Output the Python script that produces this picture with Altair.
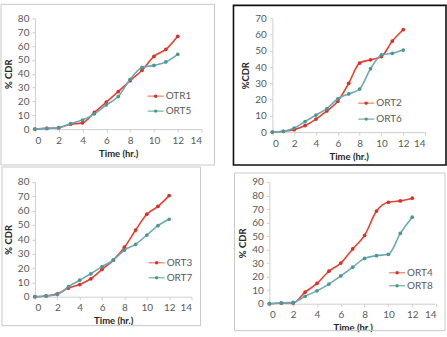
import altair as alt
import pandas as pd

# ---------------- data ----------------
time_hr = [0, 1, 2, 3, 4, 5, 6, 7, 8, 9, 10, 11, 12]

otr1 = [0, 0.5, 1, 3.5, 4.5, 12, 19.5, 27, 35, 42.5, 52.5, 57.5, 67]
ort5 = [0, 0.5, 1, 4, 6.5, 11, 17.5, 23.5, 36, 44.5, 46, 48.5, 54]

ort2 = [0, 0.5, 1.5, 4, 8, 13, 19, 30, 42.5, 44.5, 46.5, 56, 63]
ort6 = [0, 0.5, 2.5, 6.5, 10.5, 14.5, 20.5, 23.5, 26.5, 39, 47.5, 48.5, 50.5]

ort3 = [0, 0.5, 2, 6, 8.5, 12.5, 19, 25.5, 34.5, 46.5, 57.5, 63, 70.5]
ort7 = [0, 0.5, 1.5, 7, 11.5, 16, 21, 25.5, 32.5, 36.5, 43, 49.5, 54]

ort4 = [0, 0.5, 0.5, 8.5, 15, 24, 30, 40.5, 50.5, 68.5, 75, 76, 78]
ort8 = [0, 0.5, 1, 5.5, 9.5, 14.5, 20.5, 27, 33.5, 35.5, 36.5, 52, 64]

x_ticks = [0, 2, 4, 6, 8, 10, 12, 14]
y_max = [80, 70, 80, 90]
y_titles = ["% CDR", "%CDR", "% CDR", "% CDR"]
series_names = [["OTR1", "ORT5"], ["ORT2", "ORT6"], ["ORT3", "ORT7"], ["ORT4", "ORT8"]]
series_values = [[otr1, ort5], [ort2, ort6], [ort3, ort7], [ort4, ort8]]
x_title = "Time (hr.)"

# ---------------- styles ----------------
RED_LINE = "#e8412c"
RED_PT = "#d9302a"
TEAL_LINE = "#6da7bf"
TEAL_PT = "#4a9a8c"
LINE_COLORS = [RED_LINE, TEAL_LINE]
PT_COLORS = [RED_PT, TEAL_PT]
LEG_LINE = ["#ef8a6a", "#7fb3b0"]
FONT = "Lato"

# per-panel layout: plot size, frame (relative to plot), frame style, legend spot
layout = [
    dict(w=167, h=111, frame=(-34, 180, -14, 147), fc="#c8c8c8", fw=1, leg=(113, 78, 15)),
    dict(w=153, h=114, frame=(-39, 174, -13, 147), fc="#111111", fw=1.6, leg=(86, 85, 16)),
    dict(w=157, h=115, frame=(-33, 166, -15, 144), fc="#c8c8c8", fw=1, leg=(114, 81, 15)),
    dict(w=167, h=122, frame=(-35, 176, -9, 149), fc="#c8c8c8", fw=1, leg=(120, 91, 13)),
]

one = pd.DataFrame({"k": [0]})


def panel(i):
    L = layout[i]
    names = series_names[i]
    vals = series_values[i]
    xs = alt.X("t:Q", scale=alt.Scale(domain=[0, 14], nice=False),
               axis=alt.Axis(values=x_ticks, title=x_title))
    ys = alt.Y("v:Q", scale=alt.Scale(domain=[0, y_max[i]], nice=False),
               axis=alt.Axis(values=list(range(0, y_max[i] + 1, 10)), title=y_titles[i]))
    layers = []
    fx0, fx1, fy0, fy1 = L["frame"]
    layers.append(
        alt.Chart(one).mark_rect(fillOpacity=0, stroke=L["fc"], strokeWidth=L["fw"]).encode(
            x=alt.value(fx0), x2=alt.value(fx1), y=alt.value(fy0), y2=alt.value(fy1)
        )
    )
    for j in range(2):
        df = pd.DataFrame({"t": time_hr, "v": vals[j]})
        base = alt.Chart(df).encode(x=xs, y=ys)
        layers.append(base.mark_line(color=LINE_COLORS[j], strokeWidth=1.6, interpolate="monotone"))
        layers.append(base.mark_point(filled=True, color=PT_COLORS[j], size=14, opacity=1))
    lx, ly, dy = L["leg"]
    for j in range(2):
        yy = ly + j * dy
        layers.append(alt.Chart(one).mark_rule(color=LEG_LINE[j], strokeWidth=1.3).encode(
            x=alt.value(lx), x2=alt.value(lx + 16), y=alt.value(yy)))
        layers.append(alt.Chart(one).mark_point(filled=True, color=PT_COLORS[j], size=12, opacity=1).encode(
            x=alt.value(lx + 8), y=alt.value(yy)))
        layers.append(alt.Chart(pd.DataFrame({"n": [names[j]]})).mark_text(
            align="left", baseline="middle", font=FONT, fontSize=10, color="#595959").encode(
            x=alt.value(lx + 18), y=alt.value(yy), text="n:N"))
    return alt.layer(*layers).properties(width=L["w"], height=L["h"])


row1 = alt.hconcat(panel(0), panel(1), spacing=17)
row2 = alt.hconcat(panel(2), panel(3), spacing=32)

chart = alt.vconcat(row1, row2, spacing=0).properties(
    padding={"left": 0, "top": 3, "right": 0, "bottom": 0}
).configure_view(stroke=None).configure_axis(
    grid=False,
    domainColor="#cfcfcf",
    tickColor="#cfcfcf",
    tickSize=3,
    labelFont=FONT,
    labelFontSize=10,
    labelColor="#595959",
    labelPadding=3,
    titleFont=FONT,
    titleFontSize=9.5,
    titleFontWeight="bold",
    titleColor="#262626",
).configure_axisY(titlePadding=4).configure_axisX(titlePadding=3)

chart.save("out.html", embed_options={"renderer": "svg", "actions": False})
